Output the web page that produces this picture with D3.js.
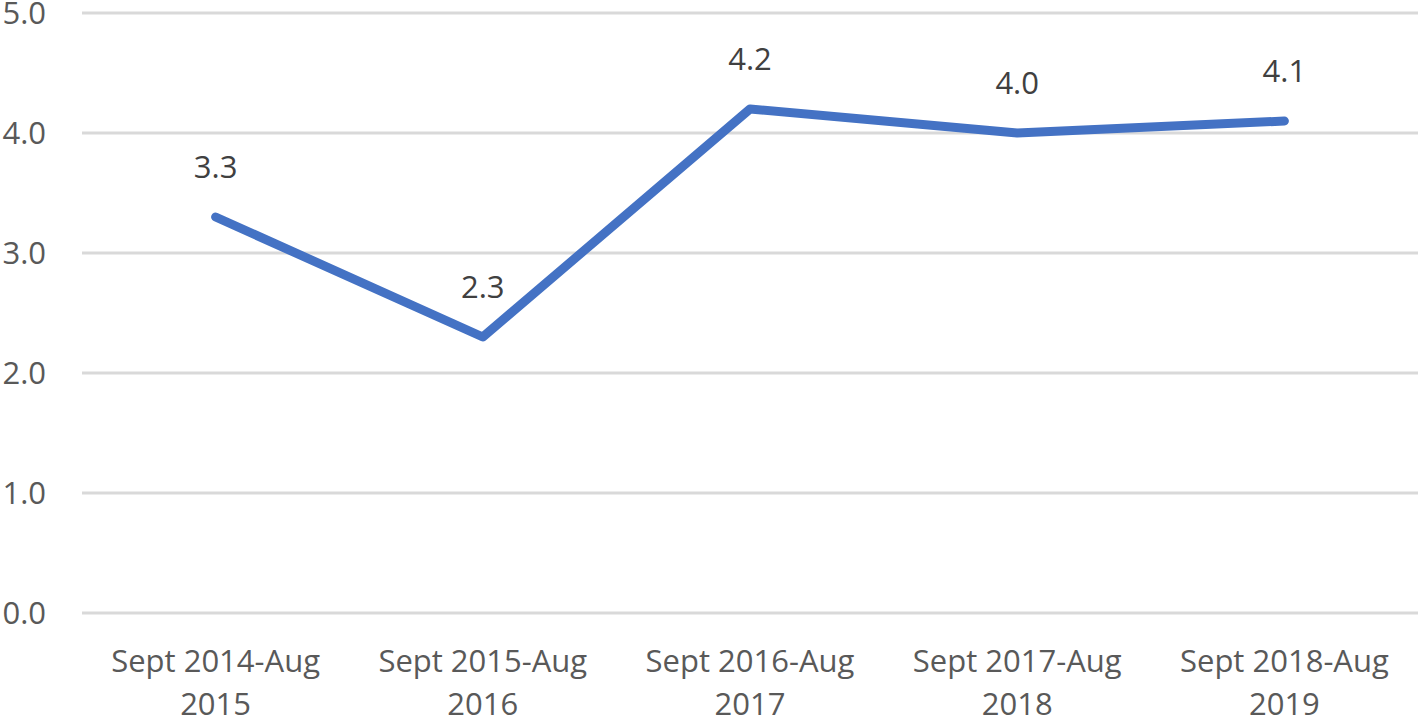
<!DOCTYPE html>
<html><head><meta charset="utf-8">
<script src="https://cdn.jsdelivr.net/npm/d3@7"></script>
<style>body{margin:0;background:#fff}svg{display:block}</style>
</head><body>
<svg id="c" width="1418" height="718"></svg>
<script>
const categories = [["Sept 2014-Aug","2015"],["Sept 2015-Aug","2016"],["Sept 2016-Aug","2017"],["Sept 2017-Aug","2018"],["Sept 2018-Aug","2019"]];
const values = [3.3, 2.3, 4.2, 4.0, 4.1];
const yTicks = [0,1,2,3,4,5];

const svg = d3.select("#c");
const font = "'Open Sans', sans-serif";
const fs = 31;
const x = d3.scaleBand().domain(d3.range(values.length)).range([82,1418]);
const y = d3.scaleLinear().domain([0,5]).range([613,13]);

svg.append("g").selectAll("line").data(yTicks).join("line")
  .attr("x1",82).attr("x2",1418).attr("y1",d=>y(d)).attr("y2",d=>y(d))
  .attr("stroke","#d9d9d9").attr("stroke-width",3);
svg.append("g").selectAll("text").data(yTicks).join("text")
  .attr("x",46).attr("y",d=>y(d)).attr("dy","0.36em").attr("text-anchor","end")
  .attr("font-family",font).attr("font-size",fs).attr("fill","#595959")
  .text(d=>d.toFixed(1));

const cx = i => x(i)+x.bandwidth()/2;
const cat = svg.append("g").selectAll("text").data(categories).join("text")
  .attr("text-anchor","middle").attr("font-family",font).attr("font-size",fs).attr("fill","#595959");
cat.each(function(d,i){
  const t=d3.select(this);
  d.forEach((s,k)=>t.append("tspan").attr("x",cx(i)).attr("y",672+k*43).text(s));
});

svg.append("path").datum(values)
  .attr("d", d3.line().x((d,i)=>cx(i)).y(d=>y(d)))
  .attr("fill","none").attr("stroke","#4472c4").attr("stroke-width",9)
  .attr("stroke-linejoin","round").attr("stroke-linecap","round");

svg.append("g").selectAll("text").data(values).join("text")
  .attr("x",(d,i)=>cx(i)).attr("y",d=>y(d)-39).attr("text-anchor","middle")
  .attr("font-family",font).attr("font-size",fs).attr("fill","#404040")
  .text(d=>d.toFixed(1));
</script>
</body></html>
